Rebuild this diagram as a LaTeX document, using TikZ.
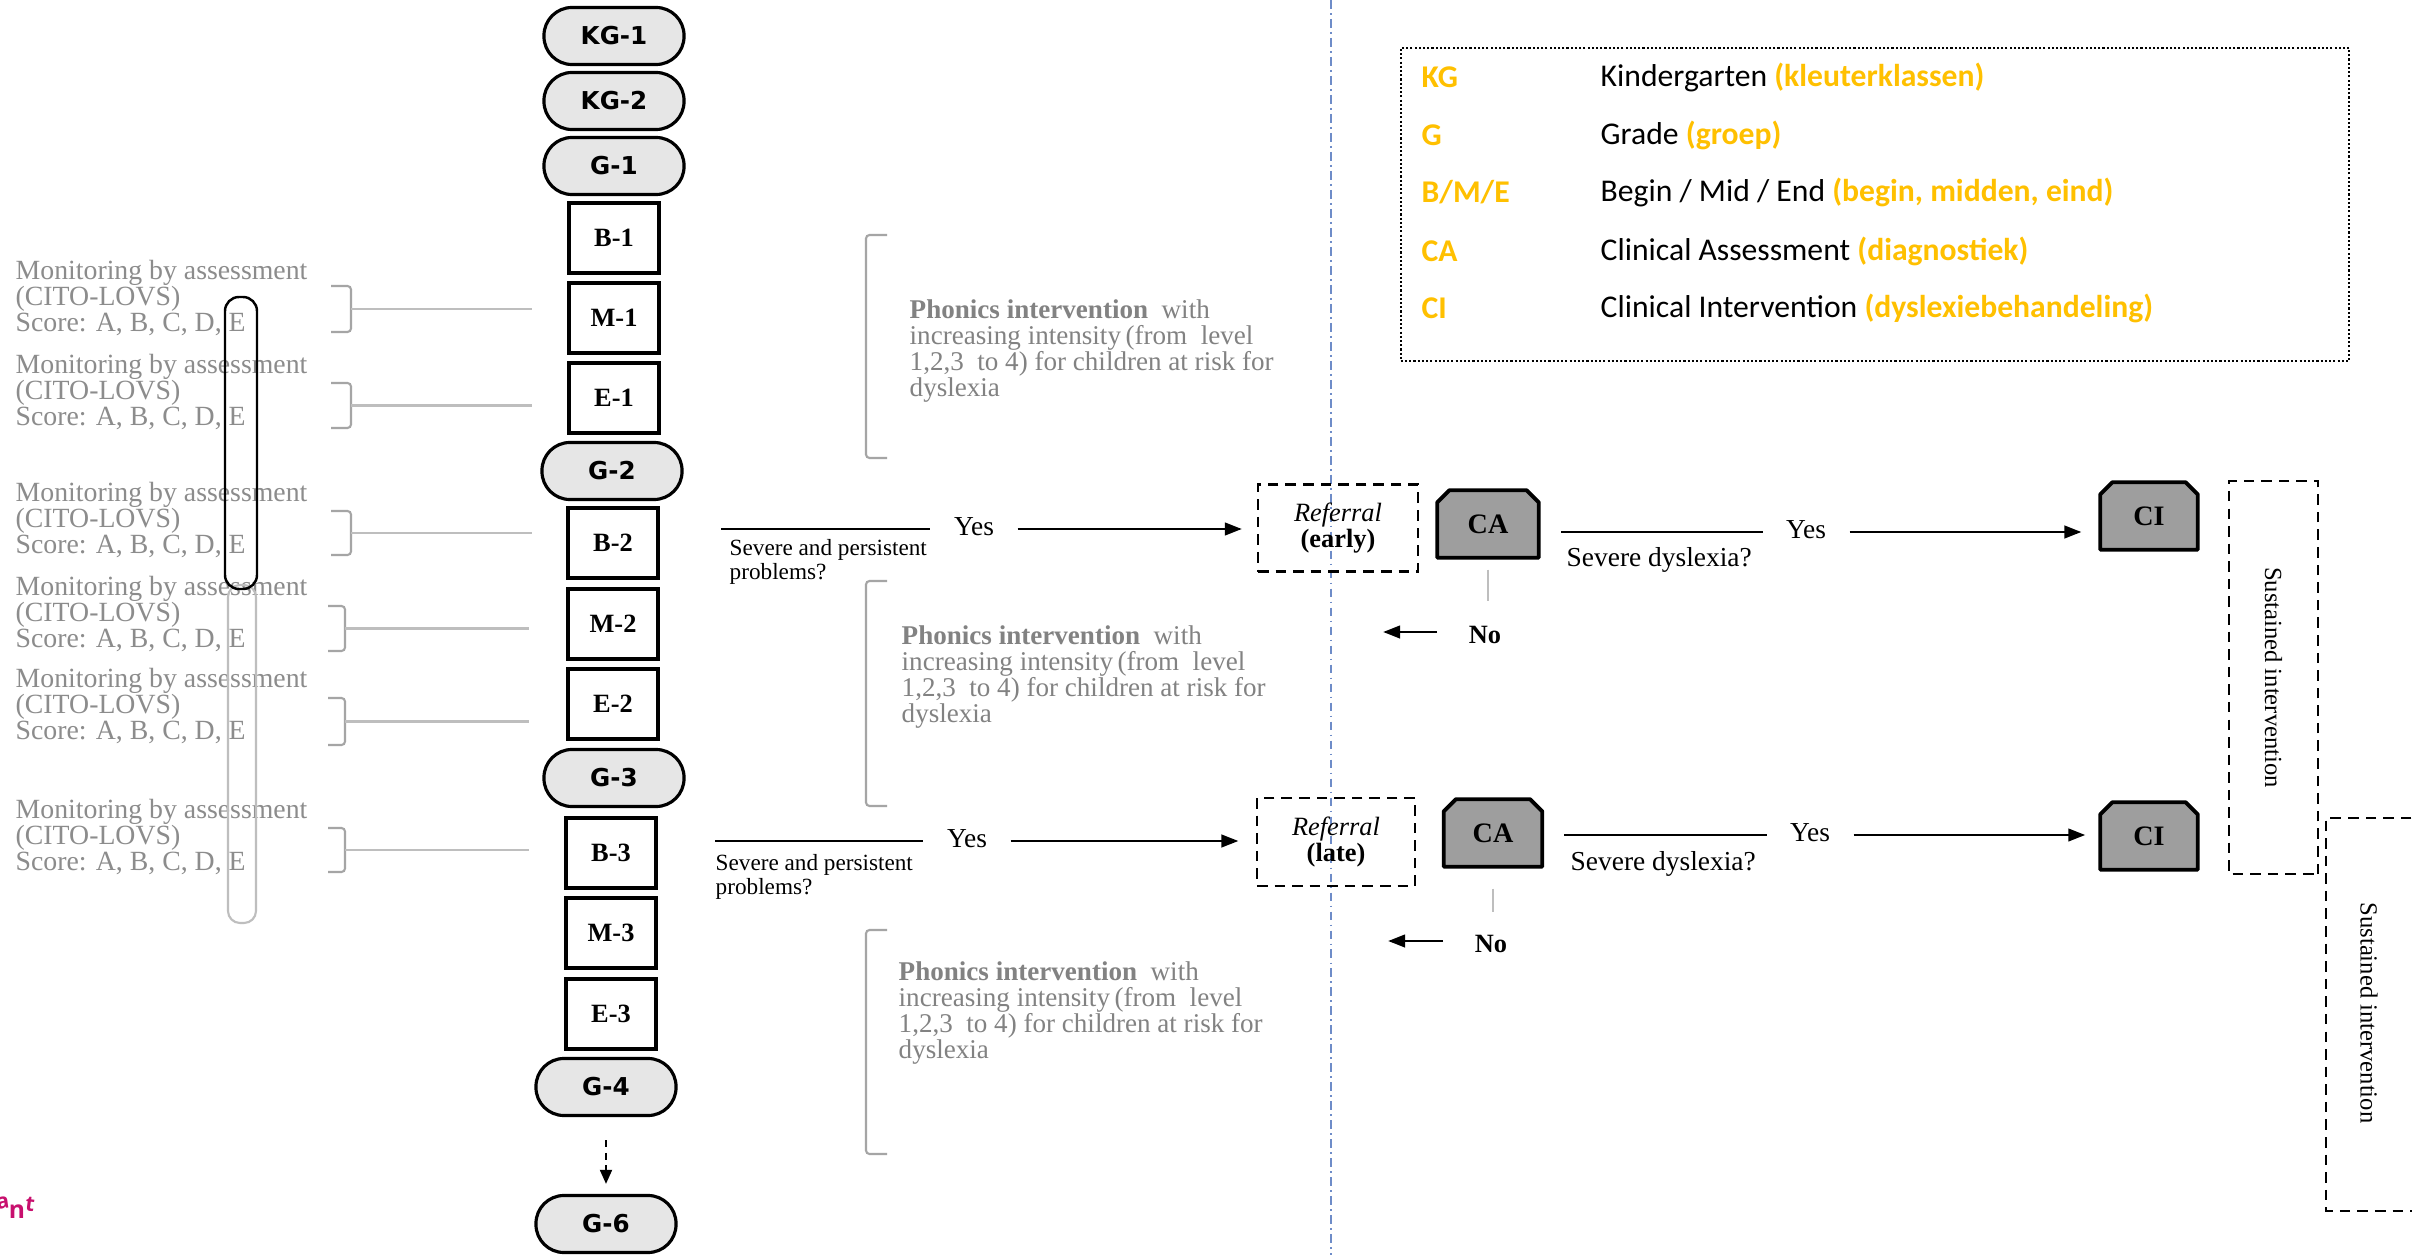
\documentclass[tikz,border=0pt]{standalone}
\usepackage{fontspec}
\setmainfont{Liberation Serif}
\newfontfamily\legfont{Carlito}
\newfontfamily\gradefont{DejaVu Sans}
\newfontfamily\antfont{Open Sans}
\usetikzlibrary{arrows.meta,calc}
\pgfdeclarelayer{back}
\pgfdeclarelayer{bg}
\pgfsetlayers{back,bg,main}
\definecolor{legorange}{RGB}{255,192,0}
\definecolor{txtgray}{RGB}{140,140,140}
\definecolor{phgray}{RGB}{130,130,130}
\definecolor{brgray}{RGB}{165,165,165}
\definecolor{lngray}{RGB}{190,190,190}
\definecolor{gradefill}{RGB}{230,230,230}
\definecolor{cafill}{RGB}{158,158,158}
\definecolor{dashblue}{RGB}{110,140,200}
\definecolor{magentatxt}{RGB}{200,16,110}
\newcommand{\myfs}[2]{\fontsize{#1}{#2}\selectfont}
\begin{document}
\begin{tikzpicture}[x=0.01cm,y=-0.01cm,
  grade/.style={draw, line width=0.9pt, fill=gradefill, rounded corners=0.28cm,
    minimum width=1.40cm, minimum height=0.57cm, inner sep=0pt,
    font=\gradefont\bfseries\myfs{7}{8}},
  term/.style={draw, line width=0.9pt, fill=white, minimum width=0.90cm,
    minimum height=0.70cm, inner sep=0pt, font=\bfseries\myfs{7.5}{9}},
  montext/.style={anchor=west, align=left, inner sep=0pt, text=txtgray,
    font=\myfs{7.9}{7.4}},
  phon/.style={anchor=west, align=left, inner sep=0pt, text=phgray,
    font=\myfs{7.7}{7.4}},
  brk/.style={draw=brgray, line width=0.6pt, rounded corners=1pt},
  lead/.style={draw=lngray, line width=0.6pt},
  sptext/.style={anchor=west, align=left, inner sep=0pt, font=\myfs{6.6}{6.6}},
  sdtext/.style={anchor=west, inner sep=0pt, font=\myfs{7.8}{9}},
  yes/.style={inner xsep=6.5pt, inner ysep=0pt, font=\myfs{7.8}{9}},
  nonode/.style={inner sep=0pt, font=\bfseries\myfs{7.5}{9}},
  thinln/.style={line width=0.6pt},
  arr/.style={line width=0.6pt, -{Triangle[length=4.8pt,width=3.6pt]}},
  dbox/.style={draw, line width=0.6pt, dash pattern=on 3pt off 2pt,
    align=center, inner sep=0pt, font=\myfs{7.5}{7.4}},
  canode/.style={minimum width=1.0cm, minimum height=0.66cm, inner sep=0pt,
    font=\bfseries\myfs{8}{9}},
  chamf/.style={line width=1.1pt, fill=cafill, line join=round},
  legab/.style={anchor=west, inner sep=0pt, text=legorange, font=\legfont\bfseries\myfs{9}{11}},
  legd/.style={anchor=west, inner sep=0pt, font=\legfont\myfs{9}{11}},
  antst/.style={inner sep=0pt, text=magentatxt, font=\antfont\bfseries\myfs{7}{8}}
]
\clip (0,0) rectangle (2412,1255);
\begin{pgfonlayer}{back}
\fill[white] (0,0) rectangle (2412,1255);
\end{pgfonlayer}

% vertical dash-dot line
\draw[dashblue, line width=0.5pt, dash pattern=on 2.5pt off 1.2pt on 0.5pt off 1.2pt] (1331,0) -- (1331,1255);

% column of grades
\node[grade] (KG1) at (614,36) {KG-1};
\node[grade] (KG2) at (614,101) {KG-2};
\node[grade] (G1) at (614,166) {G-1};
\node[term] (B1) at (614,238) {B-1};
\node[term] (M1) at (614,318) {M-1};
\node[term] (E1) at (614,398) {E-1};
\node[grade] (G2) at (612,471) {G-2};
\node[term] (B2) at (613,543) {B-2};
\node[term] (M2) at (613,624) {M-2};
\node[term] (E2) at (613,704) {E-2};
\node[grade] (G3) at (614,778) {G-3};
\node[term] (B3) at (611,853) {B-3};
\node[term] (M3) at (611,933) {M-3};
\node[term] (E3) at (611,1014) {E-3};
\node[grade] (G4) at (606,1087) {G-4};
\node[grade] (G6) at (606,1224) {G-6};
\draw[line width=0.6pt, dash pattern=on 2pt off 1.6pt, -{Triangle[length=4pt,width=3.4pt]}]
  ($(G4.south)+(0,23)$) -- ($(G6.north)+(0,-10)$);

% monitoring texts
\foreach \n/\y in {1/298,2/392,3/520,4/614,5/706,6/837}
  \node[montext] (mon\n) at (15,\y) {Monitoring by assessment\\(CITO-LOVS)\\Score: A, B, C, D, E};

% monitoring brackets and leader lines
\foreach \n/\xa/\xb/\yt/\yb/\xe in {1/331/351/286/332/532, 2/331/351/383/428/532, 3/331/351/511/555/532,
    4/328/345/606/651/529, 5/328/345/698/745/529, 6/328/345/828/872/529}{
  \draw[brk] (\xa,\yt) -- (\xb,\yt) -- (\xb,\yb) -- (\xa,\yb);
  \coordinate (bm\n) at (\xb,{(\yt+\yb)/2});
  \coordinate (be\n) at (\xe,{(\yt+\yb)/2});
  \draw[lead] (bm\n) -- (be\n);
}

% pills
\draw[draw=lngray, line width=0.6pt, rounded corners=0.12cm] (228,585) rectangle (256,923);
\draw[line width=0.7pt, rounded corners=0.14cm] (225,297) rectangle (257,589);

% phonics brackets and text
\foreach \n/\yt/\yb/\tx/\ty in {1/235/458/909/351, 2/581/806/901/677, 3/930/1154/898/1013}{
  \draw[brk] (887,\yt) -- (866,\yt) -- (866,\yb) -- (887,\yb);
  \node[phon] (ph\n) at (\tx,\ty) {\textbf{Phonics intervention}\ \ with\\increasing intensity\,(from\ \ level\\1,2,3\ \ to 4) for children at risk for\\dyslexia};
}

% early referral branch
\node[sptext] (sp1) at (729,562) {Severe and persistent\\problems?};
\coordinate (l1) at (721,529);
\node[yes] (yes1) at (974,527) {Yes};
\node[dbox, minimum width=1.60cm, minimum height=0.87cm] (Ref1) at (1338,528) {\textit{Referral}\\\textbf{(early)}};
\draw[thinln] (l1) -- (l1 -| yes1.west);
\draw[arr, shorten >=4.3pt] (l1 -| yes1.east) -- (l1 -| Ref1.west);

% late referral branch
\node[sptext] (sp2) at (715,877) {Severe and persistent\\problems?};
\coordinate (l2) at (715,841);
\node[yes] (yes2) at (967,839) {Yes};
\node[dbox, minimum width=1.58cm, minimum height=0.88cm] (Ref2) at (1336,842) {\textit{Referral}\\\textbf{(late)}};
\draw[thinln] (l2) -- (l2 -| yes2.west);
\draw[arr, shorten >=5pt] (l2 -| yes2.east) -- (l2 -| Ref2.west);

% clinical assessments and interventions (text nodes; shapes on layer below)
\node[canode] (CA1) at (1488,524) {CA};
\node[canode, minimum width=0.97cm] (CA2) at (1493,833) {CA};
\node[canode, minimum width=0.96cm] (CI1) at (2149,516) {CI};
\node[canode, minimum width=0.96cm] (CI2) at (2149,836) {CI};
\begin{pgfonlayer}{bg}
\foreach \c in {CA1,CA2,CI1,CI2}
  \draw[chamf] (\c.south west) -- ($(\c.north west)+(0,12)$) -- ($(\c.north west)+(12,0)$)
    -- ($(\c.north east)+(-12,0)$) -- ($(\c.north east)+(0,12)$) -- (\c.south east) -- cycle;
\end{pgfonlayer}

\draw[lngray, line width=0.6pt] ($(CA1.south)+(0,12)$) -- ($(CA1.south)+(0,43)$);
\draw[lngray, line width=0.6pt] ($(CA2.south)+(0,22)$) -- ($(CA2.south)+(0,45)$);
\node[nonode] (No1) at (1485,635) {No};
\node[nonode] (No2) at (1491,944) {No};
\draw[arr] ($(No1.west)+(-31,-3)$) -- ($(No1.west)+(-85,-3)$);
\draw[arr] ($(No2.west)+(-31,-3)$) -- ($(No2.west)+(-86,-3)$);

\coordinate (l3) at (1561,532);
\node[yes] (yes3) at (1806,530) {Yes};
\draw[thinln] (l3) -- (l3 -| yes3.west);
\draw[arr, shorten >=5.4pt] (l3 -| yes3.east) -- (l3 -| CI1.west);
\node[sdtext] (sd1) at (1566,560) {Severe dyslexia?};
\coordinate (l4) at (1564,835);
\node[yes] (yes4) at (1810,833) {Yes};
\draw[thinln] (l4) -- (l4 -| yes4.west);
\draw[arr, shorten >=4.3pt] (l4 -| yes4.east) -- (l4 -| CI2.west);
\node[sdtext] (sd2) at (1570,864) {Severe dyslexia?};

% sustained intervention
\node[dbox, rotate=-90, minimum width=3.93cm, minimum height=0.89cm, font=\myfs{7}{8}] (S1) at (2273.5,677.5) {Sustained intervention};
\node[dbox, rotate=-90, minimum width=3.93cm, minimum height=1.14cm] (S2) at (2383,1014.5) {};
\node[rotate=-90, inner sep=0pt, font=\myfs{7}{8}] (S2t) at (2369,1013) {Sustained intervention};

% legend
\node[draw, line width=0.6pt, dash pattern=on 0.6pt off 0.6pt, minimum width=9.48cm, minimum height=3.13cm, inner sep=0pt] (leg) at (1875,204.5) {};
\node[legab] (ab1) at (1421,77) {KG};
\node[legd] (d1) at (1600,77) {Kindergarten \textcolor{legorange}{\bfseries(kleuterklassen)}};
\node[legab] (ab2) at (1421,135) {G};
\node[legd] (d2) at (1600,135) {Grade \textcolor{legorange}{\bfseries(groep)}};
\node[legab] (ab3) at (1421,192) {B/M/E};
\node[legd] (d3) at (1600,192) {Begin / Mid / End \textcolor{legorange}{\bfseries(begin, midden, eind)}};
\node[legab] (ab4) at (1421,251) {CA};
\node[legd] (d4) at (1600,251) {Clinical Assessment \textcolor{legorange}{\bfseries(diagnostiek)}};
\node[legab] (ab5) at (1421,308) {CI};
\node[legd] (d5) at (1600,308) {Clinical Intervention \textcolor{legorange}{\bfseries(dyslexiebehandeling)}};

% magenta fragment
\node[antst, font=\antfont\bfseries\myfs{6}{7}, rotate=8] (ant1) at (3,1203) {a};
\node[antst] (ant2) at (17,1212) {n};
\node[antst, font=\antfont\bfseries\myfs{6}{7}, rotate=-8] (ant3) at (30,1204) {t};
\end{tikzpicture}
\end{document}
